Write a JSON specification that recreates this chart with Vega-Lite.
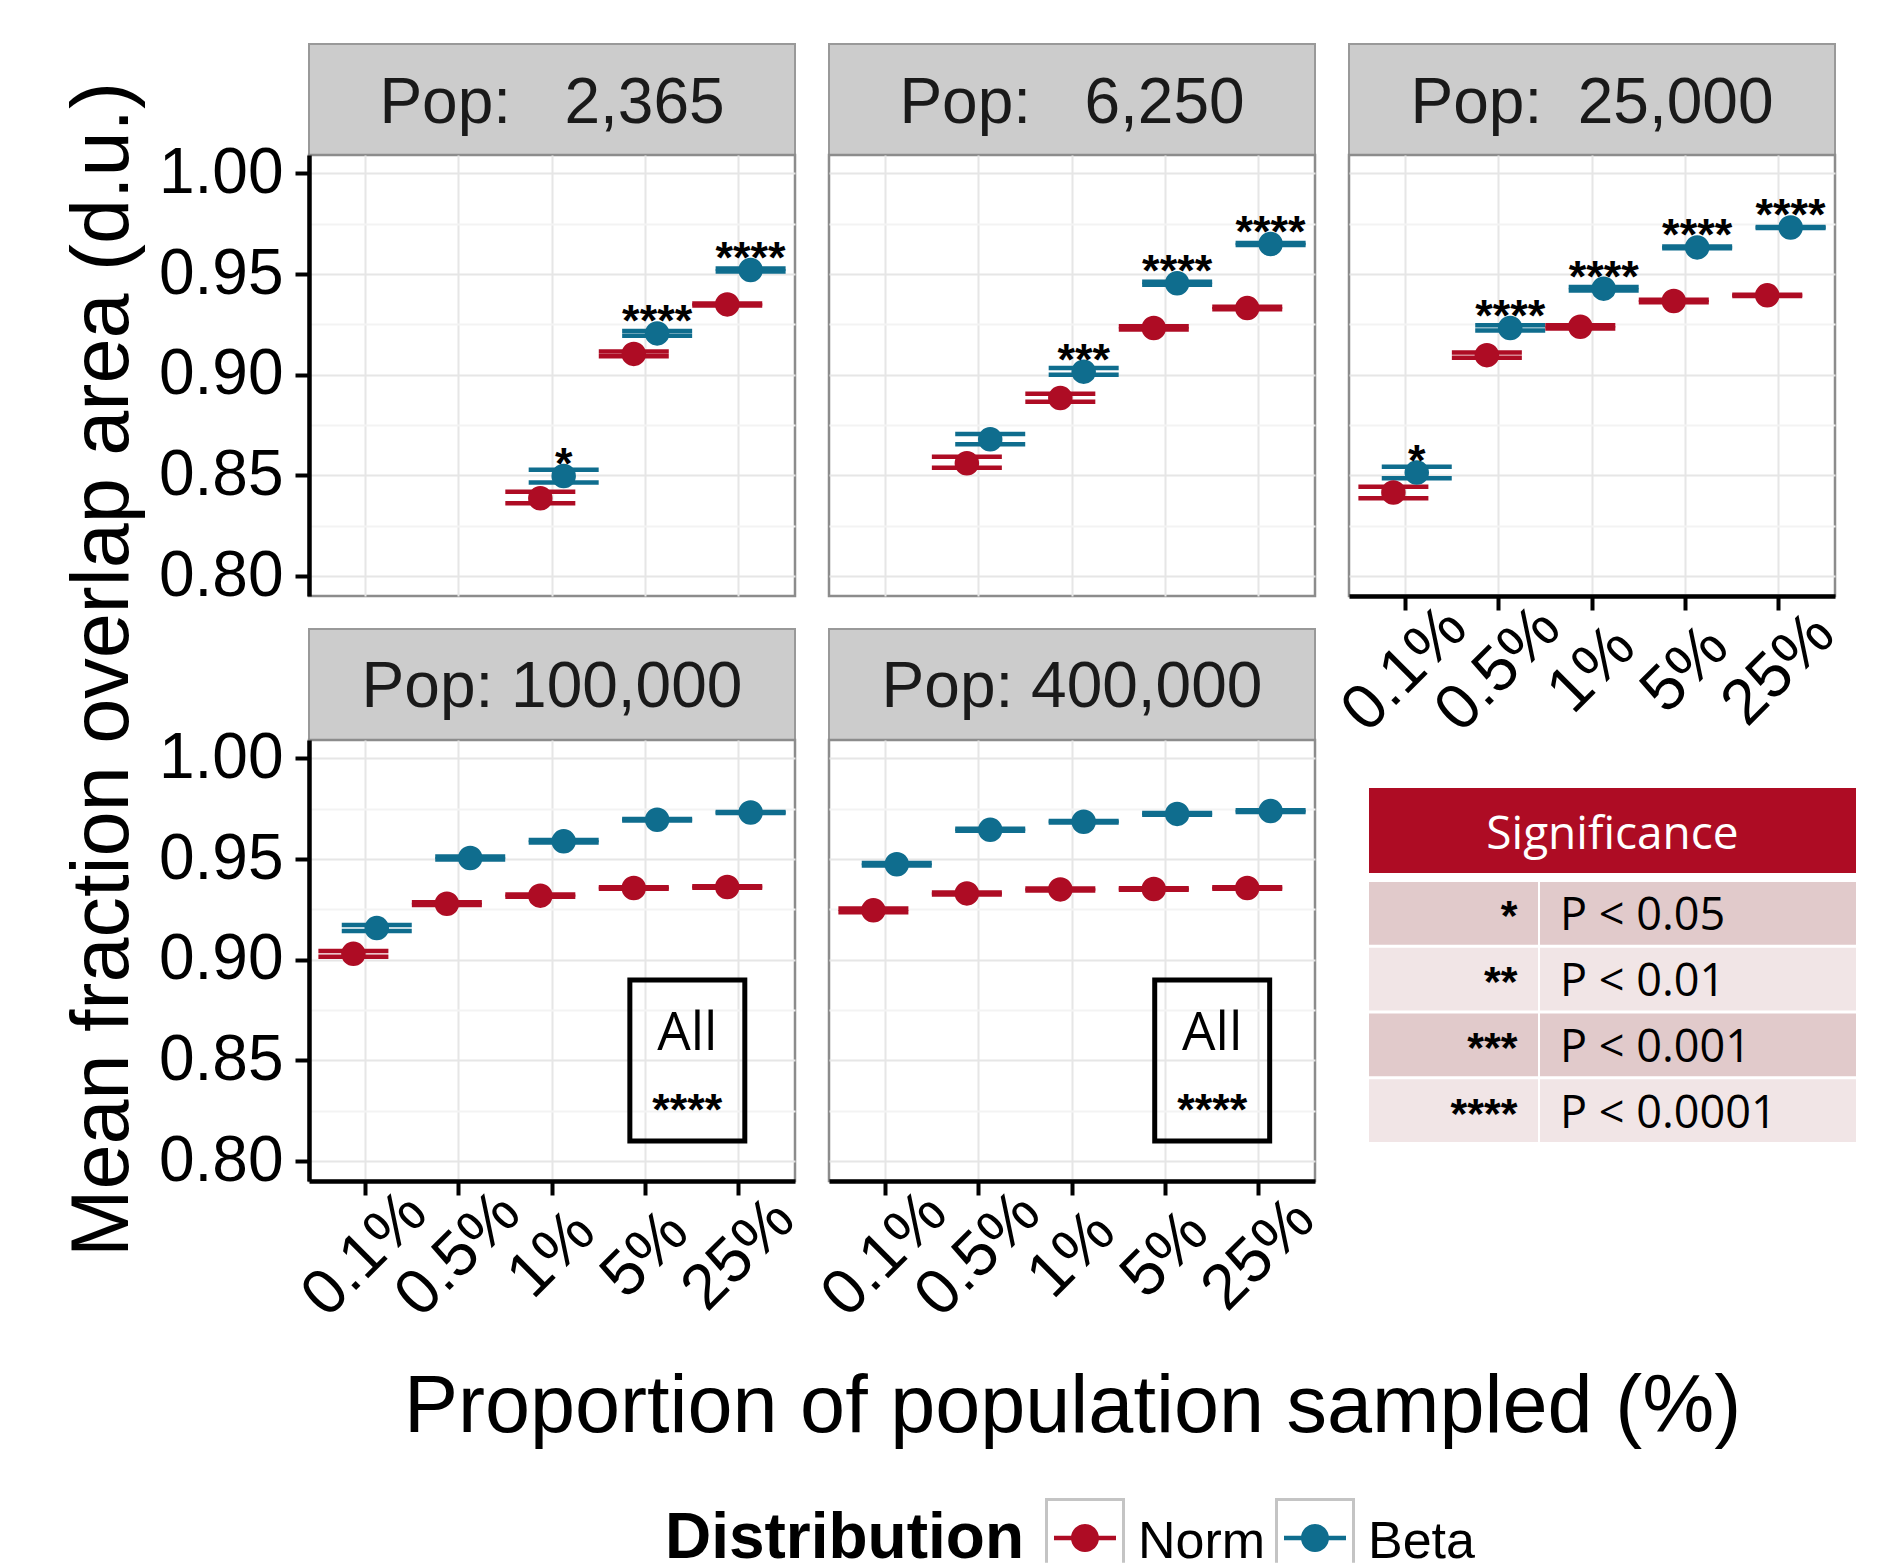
{
  "$schema": "https://vega.github.io/schema/vega-lite/v6.json",
  "background": "white",
  "padding": {"left": 60, "top": 43, "right": 5, "bottom": 0},
  "bounds": "flush",
  "columns": 3,
  "spacing": {"row": 0, "column": 34},
  "datasets": {
    "main": [
      {"Pop":"2,365","Prop":"1%","Distribution":"Norm","mean":0.8386,"lo":0.8361,"hi":0.8419,"sig":""},
      {"Pop":"2,365","Prop":"1%","Distribution":"Beta","mean":0.8497,"lo":0.8465,"hi":0.8528,"sig":"*"},
      {"Pop":"2,365","Prop":"5%","Distribution":"Norm","mean":0.9103,"lo":0.9091,"hi":0.9115,"sig":""},
      {"Pop":"2,365","Prop":"5%","Distribution":"Beta","mean":0.9205,"lo":0.9194,"hi":0.9217,"sig":"****"},
      {"Pop":"2,365","Prop":"25%","Distribution":"Norm","mean":0.9349,"lo":0.9344,"hi":0.9354,"sig":""},
      {"Pop":"2,365","Prop":"25%","Distribution":"Beta","mean":0.9520,"lo":0.9513,"hi":0.9527,"sig":"****"},
      {"Pop":"6,250","Prop":"0.5%","Distribution":"Norm","mean":0.8560,"lo":0.8538,"hi":0.8593,"sig":""},
      {"Pop":"6,250","Prop":"0.5%","Distribution":"Beta","mean":0.8679,"lo":0.8654,"hi":0.8705,"sig":""},
      {"Pop":"6,250","Prop":"1%","Distribution":"Norm","mean":0.8884,"lo":0.8866,"hi":0.8905,"sig":""},
      {"Pop":"6,250","Prop":"1%","Distribution":"Beta","mean":0.9015,"lo":0.9000,"hi":0.9033,"sig":"***"},
      {"Pop":"6,250","Prop":"5%","Distribution":"Norm","mean":0.9232,"lo":0.9224,"hi":0.9240,"sig":""},
      {"Pop":"6,250","Prop":"5%","Distribution":"Beta","mean":0.9454,"lo":0.9447,"hi":0.9461,"sig":"****"},
      {"Pop":"6,250","Prop":"25%","Distribution":"Norm","mean":0.9331,"lo":0.9325,"hi":0.9337,"sig":""},
      {"Pop":"6,250","Prop":"25%","Distribution":"Beta","mean":0.9649,"lo":0.9644,"hi":0.9654,"sig":"****"},
      {"Pop":"25,000","Prop":"0.1%","Distribution":"Norm","mean":0.8415,"lo":0.8387,"hi":0.8444,"sig":""},
      {"Pop":"25,000","Prop":"0.1%","Distribution":"Beta","mean":0.8514,"lo":0.8486,"hi":0.8543,"sig":"*"},
      {"Pop":"25,000","Prop":"0.5%","Distribution":"Norm","mean":0.9097,"lo":0.9084,"hi":0.9110,"sig":""},
      {"Pop":"25,000","Prop":"0.5%","Distribution":"Beta","mean":0.9232,"lo":0.9219,"hi":0.9245,"sig":"****"},
      {"Pop":"25,000","Prop":"1%","Distribution":"Norm","mean":0.9238,"lo":0.9230,"hi":0.9246,"sig":""},
      {"Pop":"25,000","Prop":"1%","Distribution":"Beta","mean":0.9427,"lo":0.9418,"hi":0.9436,"sig":"****"},
      {"Pop":"25,000","Prop":"5%","Distribution":"Norm","mean":0.9366,"lo":0.9360,"hi":0.9372,"sig":""},
      {"Pop":"25,000","Prop":"5%","Distribution":"Beta","mean":0.9632,"lo":0.9628,"hi":0.9636,"sig":"****"},
      {"Pop":"25,000","Prop":"25%","Distribution":"Norm","mean":0.9394,"lo":0.9391,"hi":0.9397,"sig":""},
      {"Pop":"25,000","Prop":"25%","Distribution":"Beta","mean":0.9731,"lo":0.9728,"hi":0.9734,"sig":"****"},
      {"Pop":"100,000","Prop":"0.1%","Distribution":"Norm","mean":0.9029,"lo":0.9015,"hi":0.9043,"sig":""},
      {"Pop":"100,000","Prop":"0.1%","Distribution":"Beta","mean":0.9157,"lo":0.9142,"hi":0.9172,"sig":""},
      {"Pop":"100,000","Prop":"0.5%","Distribution":"Norm","mean":0.9278,"lo":0.9271,"hi":0.9285,"sig":""},
      {"Pop":"100,000","Prop":"0.5%","Distribution":"Beta","mean":0.9505,"lo":0.9498,"hi":0.9512,"sig":""},
      {"Pop":"100,000","Prop":"1%","Distribution":"Norm","mean":0.9318,"lo":0.9312,"hi":0.9324,"sig":""},
      {"Pop":"100,000","Prop":"1%","Distribution":"Beta","mean":0.9588,"lo":0.9582,"hi":0.9594,"sig":""},
      {"Pop":"100,000","Prop":"5%","Distribution":"Norm","mean":0.9356,"lo":0.9352,"hi":0.9360,"sig":""},
      {"Pop":"100,000","Prop":"5%","Distribution":"Beta","mean":0.9695,"lo":0.9691,"hi":0.9699,"sig":""},
      {"Pop":"100,000","Prop":"25%","Distribution":"Norm","mean":0.9361,"lo":0.9357,"hi":0.9365,"sig":""},
      {"Pop":"100,000","Prop":"25%","Distribution":"Beta","mean":0.9731,"lo":0.9728,"hi":0.9734,"sig":""},
      {"Pop":"400,000","Prop":"0.1%","Distribution":"Norm","mean":0.9245,"lo":0.9236,"hi":0.9254,"sig":""},
      {"Pop":"400,000","Prop":"0.1%","Distribution":"Beta","mean":0.9474,"lo":0.9468,"hi":0.9480,"sig":""},
      {"Pop":"400,000","Prop":"0.5%","Distribution":"Norm","mean":0.9329,"lo":0.9324,"hi":0.9334,"sig":""},
      {"Pop":"400,000","Prop":"0.5%","Distribution":"Beta","mean":0.9645,"lo":0.9640,"hi":0.9650,"sig":""},
      {"Pop":"400,000","Prop":"1%","Distribution":"Norm","mean":0.9349,"lo":0.9344,"hi":0.9354,"sig":""},
      {"Pop":"400,000","Prop":"1%","Distribution":"Beta","mean":0.9685,"lo":0.9681,"hi":0.9689,"sig":""},
      {"Pop":"400,000","Prop":"5%","Distribution":"Norm","mean":0.9351,"lo":0.9347,"hi":0.9355,"sig":""},
      {"Pop":"400,000","Prop":"5%","Distribution":"Beta","mean":0.9724,"lo":0.9720,"hi":0.9728,"sig":""},
      {"Pop":"400,000","Prop":"25%","Distribution":"Norm","mean":0.9356,"lo":0.9352,"hi":0.9360,"sig":""},
      {"Pop":"400,000","Prop":"25%","Distribution":"Beta","mean":0.9738,"lo":0.9734,"hi":0.9742,"sig":""}
    ],
    "sigtab": [
      {"stars":"*","p":"P < 0.05"},
      {"stars":"**","p":"P < 0.01"},
      {"stars":"***","p":"P < 0.001"},
      {"stars":"****","p":"P < 0.0001"}
    ]
  },
  "concat": [
    {
      "width": 486, "height": 111, "view": {"stroke": null},
      "data": {"values": [{"s": "Pop:\u00a0\u00a0\u00a02,365"}]},
      "encoding": {"y": {"field": "s", "type": "nominal", "scale": {"paddingInner": 0, "paddingOuter": 0}, "axis": null}},
      "layer": [
        {"mark": {"type": "rect", "fill": "#cccccc", "stroke": "#999999", "strokeWidth": 2}},
        {"mark": {"type": "text", "fontSize": 64, "color": "#1a1a1a", "baseline": "alphabetic", "dy": 23}, "encoding": {"text": {"field": "s"}}}
      ]
    },
    {
      "width": 486, "height": 111, "view": {"stroke": null},
      "data": {"values": [{"s": "Pop:\u00a0\u00a0\u00a06,250"}]},
      "encoding": {"y": {"field": "s", "type": "nominal", "scale": {"paddingInner": 0, "paddingOuter": 0}, "axis": null}},
      "layer": [
        {"mark": {"type": "rect", "fill": "#cccccc", "stroke": "#999999", "strokeWidth": 2}},
        {"mark": {"type": "text", "fontSize": 64, "color": "#1a1a1a", "baseline": "alphabetic", "dy": 23}, "encoding": {"text": {"field": "s"}}}
      ]
    },
    {
      "width": 486, "height": 111, "view": {"stroke": null},
      "data": {"values": [{"s": "Pop:\u00a0\u00a025,000"}]},
      "encoding": {"y": {"field": "s", "type": "nominal", "scale": {"paddingInner": 0, "paddingOuter": 0}, "axis": null}},
      "layer": [
        {"mark": {"type": "rect", "fill": "#cccccc", "stroke": "#999999", "strokeWidth": 2}},
        {"mark": {"type": "text", "fontSize": 64, "color": "#1a1a1a", "baseline": "alphabetic", "dy": 23}, "encoding": {"text": {"field": "s"}}}
      ]
    },
    {
      "width": 486, "height": 441,
      "data": {"name": "main"},
      "transform": [{"filter": "datum.Pop == '2,365'"}],
      "encoding": {
        "x": {"field": "Prop", "type": "nominal", "scale": {"domain": ["0.1%","0.5%","1%","5%","25%"], "paddingInner": 0, "paddingOuter": 0.1},
              "axis": {"title": null, "labels": false, "ticks": false, "domain": false, "grid": true, "gridColor": "#e6e6e6", "gridWidth": 2, "bandPosition": 0.5}},
        "xOffset": {"field": "Distribution", "type": "nominal", "scale": {"domain": ["Norm","Beta"], "paddingInner": 0, "paddingOuter": 1}},
        "color": {"field": "Distribution", "type": "nominal", "scale": {"domain": ["Norm","Beta"], "range": ["#ae0c24","#0f6d8e"]}, "legend": null}
      },
      "layer": [
        {"mark": {"type": "tick", "thickness": 4.5, "size": 70, "opacity": 1},
         "encoding": {"y": {"field": "lo", "type": "quantitative", "scale": {"domain": [0.7901, 1.0091], "nice": false, "zero": false},
           "axis": {"title": null, "values": [0.8,0.825,0.85,0.875,0.9,0.925,0.95,0.975,1], "labelExpr": "abs(datum.value*20 - round(datum.value*20)) < 0.01 ? format(datum.value, '.2f') : ''", "labelFontSize": 64, "labelPadding": 12, "labelOverlap": false, "labelFlush": false, "labelColor": "#000", "ticks": true, "tickSize": 14, "tickWidth": 4, "tickColor": "#000", "tickOpacity": {"condition": {"test": "abs(datum.value*20 - round(datum.value*20)) < 0.01", "value": 1}, "value": 0}, "domain": true, "domainColor": "#000", "domainWidth": 4.5, "grid": true, "gridColor": {"condition": {"test": "abs(datum.value*20 - round(datum.value*20)) < 0.01", "value": "#e6e6e6"}, "value": "#f3f3f3"}, "gridWidth": 2}}}},
        {"mark": {"type": "tick", "thickness": 4.5, "size": 70, "opacity": 1}, "encoding": {"y": {"field": "hi", "type": "quantitative"}}},
        {"mark": {"type": "point", "filled": true, "size": 600, "opacity": 1}, "encoding": {"y": {"field": "mean", "type": "quantitative"}}},
        {"transform": [{"filter": "datum.sig != ''"}], "mark": {"type": "text", "fontSize": 45, "fontWeight": "bold", "dy": 3, "baseline": "alphabetic"}, "encoding": {"y": {"field": "mean", "type": "quantitative"}, "text": {"field": "sig"}, "color": {"value": "#000"}}}
      ]
    },
    {
      "width": 486, "height": 441,
      "data": {"name": "main"},
      "transform": [{"filter": "datum.Pop == '6,250'"}],
      "encoding": {
        "x": {"field": "Prop", "type": "nominal", "scale": {"domain": ["0.1%","0.5%","1%","5%","25%"], "paddingInner": 0, "paddingOuter": 0.1},
              "axis": {"title": null, "labels": false, "ticks": false, "domain": false, "grid": true, "gridColor": "#e6e6e6", "gridWidth": 2, "bandPosition": 0.5}},
        "xOffset": {"field": "Distribution", "type": "nominal", "scale": {"domain": ["Norm","Beta"], "paddingInner": 0, "paddingOuter": 1}},
        "color": {"field": "Distribution", "type": "nominal", "scale": {"domain": ["Norm","Beta"], "range": ["#ae0c24","#0f6d8e"]}, "legend": null}
      },
      "layer": [
        {"mark": {"type": "tick", "thickness": 4.5, "size": 70, "opacity": 1},
         "encoding": {"y": {"field": "lo", "type": "quantitative", "scale": {"domain": [0.7901, 1.0091], "nice": false, "zero": false},
           "axis": {"title": null, "values": [0.8,0.825,0.85,0.875,0.9,0.925,0.95,0.975,1], "labels": false, "ticks": false, "domain": false, "grid": true, "gridColor": {"condition": {"test": "abs(datum.value*20 - round(datum.value*20)) < 0.01", "value": "#e6e6e6"}, "value": "#f3f3f3"}, "gridWidth": 2}}}},
        {"mark": {"type": "tick", "thickness": 4.5, "size": 70, "opacity": 1}, "encoding": {"y": {"field": "hi", "type": "quantitative"}}},
        {"mark": {"type": "point", "filled": true, "size": 600, "opacity": 1}, "encoding": {"y": {"field": "mean", "type": "quantitative"}}},
        {"transform": [{"filter": "datum.sig != ''"}], "mark": {"type": "text", "fontSize": 45, "fontWeight": "bold", "dy": 3, "baseline": "alphabetic"}, "encoding": {"y": {"field": "mean", "type": "quantitative"}, "text": {"field": "sig"}, "color": {"value": "#000"}}}
      ]
    },
    {
      "width": 486, "height": 441,
      "data": {"name": "main"},
      "transform": [{"filter": "datum.Pop == '25,000'"}],
      "encoding": {
        "x": {"field": "Prop", "type": "nominal", "scale": {"domain": ["0.1%","0.5%","1%","5%","25%"], "paddingInner": 0, "paddingOuter": 0.1},
              "axis": {"title": null, "labelAngle": -45, "labelAlign": "center", "labelBaseline": "middle", "labelPadding": 59, "labelFontSize": 64, "labelOverlap": false, "labelColor": "#000", "ticks": true, "tickSize": 14, "tickWidth": 4, "tickColor": "#000", "domain": true, "domainColor": "#000", "domainWidth": 4.5, "grid": true, "gridColor": "#e6e6e6", "gridWidth": 2, "bandPosition": 0.5}},
        "xOffset": {"field": "Distribution", "type": "nominal", "scale": {"domain": ["Norm","Beta"], "paddingInner": 0, "paddingOuter": 1}},
        "color": {"field": "Distribution", "type": "nominal", "scale": {"domain": ["Norm","Beta"], "range": ["#ae0c24","#0f6d8e"]}, "legend": null}
      },
      "layer": [
        {"mark": {"type": "tick", "thickness": 4.5, "size": 70, "opacity": 1},
         "encoding": {"y": {"field": "lo", "type": "quantitative", "scale": {"domain": [0.7901, 1.0091], "nice": false, "zero": false},
           "axis": {"title": null, "values": [0.8,0.825,0.85,0.875,0.9,0.925,0.95,0.975,1], "labels": false, "ticks": false, "domain": false, "grid": true, "gridColor": {"condition": {"test": "abs(datum.value*20 - round(datum.value*20)) < 0.01", "value": "#e6e6e6"}, "value": "#f3f3f3"}, "gridWidth": 2}}}},
        {"mark": {"type": "tick", "thickness": 4.5, "size": 70, "opacity": 1}, "encoding": {"y": {"field": "hi", "type": "quantitative"}}},
        {"mark": {"type": "point", "filled": true, "size": 600, "opacity": 1}, "encoding": {"y": {"field": "mean", "type": "quantitative"}}},
        {"transform": [{"filter": "datum.sig != ''"}], "mark": {"type": "text", "fontSize": 45, "fontWeight": "bold", "dy": 3, "baseline": "alphabetic"}, "encoding": {"y": {"field": "mean", "type": "quantitative"}, "text": {"field": "sig"}, "color": {"value": "#000"}}}
      ]
    },
    {
      "width": 486, "height": 144, "view": {"stroke": null},
      "data": {"values": [{"s": "Pop: 100,000"}]},
      "encoding": {"y": {"field": "s", "type": "nominal", "scale": {"paddingInner": 0, "paddingOuter": 0.1486, "align": 1}, "axis": null}},
      "layer": [
        {"mark": {"type": "rect", "fill": "#cccccc", "stroke": "#999999", "strokeWidth": 2}},
        {"mark": {"type": "text", "fontSize": 64, "color": "#1a1a1a", "baseline": "alphabetic", "dy": 23}, "encoding": {"text": {"field": "s"}}}
      ]
    },
    {
      "width": 486, "height": 144, "view": {"stroke": null},
      "data": {"values": [{"s": "Pop: 400,000"}]},
      "encoding": {"y": {"field": "s", "type": "nominal", "scale": {"paddingInner": 0, "paddingOuter": 0.1486, "align": 1}, "axis": null}},
      "layer": [
        {"mark": {"type": "rect", "fill": "#cccccc", "stroke": "#999999", "strokeWidth": 2}},
        {"mark": {"type": "text", "fontSize": 64, "color": "#1a1a1a", "baseline": "alphabetic", "dy": 23}, "encoding": {"text": {"field": "s"}}}
      ]
    },
    {
      "width": 10, "height": 10, "view": {"stroke": null},
      "data": {"values": [{"a": 1}]},
      "mark": {"type": "point", "opacity": 0},
      "encoding": {}
    },
    {
      "width": 486, "height": 441,
      "resolve": {"scale": {"x": "independent"}},
      "layer": [
        {
          "data": {"name": "main"},
          "transform": [{"filter": "datum.Pop == '100,000'"}],
          "encoding": {
            "x": {"field": "Prop", "type": "nominal", "scale": {"domain": ["0.1%","0.5%","1%","5%","25%"], "paddingInner": 0, "paddingOuter": 0.1},
                  "axis": {"title": null, "labelAngle": -45, "labelAlign": "center", "labelBaseline": "middle", "labelPadding": 59, "labelFontSize": 64, "labelOverlap": false, "labelColor": "#000", "ticks": true, "tickSize": 14, "tickWidth": 4, "tickColor": "#000", "domain": true, "domainColor": "#000", "domainWidth": 4.5, "grid": true, "gridColor": "#e6e6e6", "gridWidth": 2, "bandPosition": 0.5}},
            "xOffset": {"field": "Distribution", "type": "nominal", "scale": {"domain": ["Norm","Beta"], "paddingInner": 0, "paddingOuter": 1}},
            "color": {"field": "Distribution", "type": "nominal", "scale": {"domain": ["Norm","Beta"], "range": ["#ae0c24","#0f6d8e"]}, "legend": null}
          },
          "layer": [
            {"mark": {"type": "tick", "thickness": 4.5, "size": 70, "opacity": 1},
             "encoding": {"y": {"field": "lo", "type": "quantitative", "scale": {"domain": [0.7901, 1.0091], "nice": false, "zero": false},
               "axis": {"title": "Mean fraction overlap area (d.u.)", "titleFontSize": 81, "titleFontWeight": "normal", "titleX": -182, "titleY": -71, "titleAngle": 270, "titleAlign": "center", "titleBaseline": "alphabetic", "values": [0.8,0.825,0.85,0.875,0.9,0.925,0.95,0.975,1], "labelExpr": "abs(datum.value*20 - round(datum.value*20)) < 0.01 ? format(datum.value, '.2f') : ''", "labelFontSize": 64, "labelPadding": 12, "labelOverlap": false, "labelFlush": false, "labelColor": "#000", "ticks": true, "tickSize": 14, "tickWidth": 4, "tickColor": "#000", "tickOpacity": {"condition": {"test": "abs(datum.value*20 - round(datum.value*20)) < 0.01", "value": 1}, "value": 0}, "domain": true, "domainColor": "#000", "domainWidth": 4.5, "grid": true, "gridColor": {"condition": {"test": "abs(datum.value*20 - round(datum.value*20)) < 0.01", "value": "#e6e6e6"}, "value": "#f3f3f3"}, "gridWidth": 2}}}},
            {"mark": {"type": "tick", "thickness": 4.5, "size": 70, "opacity": 1}, "encoding": {"y": {"field": "hi", "type": "quantitative"}}},
            {"mark": {"type": "point", "filled": true, "size": 600, "opacity": 1}, "encoding": {"y": {"field": "mean", "type": "quantitative"}}}
          ]
        },
        {
          "data": {"values": [{"label": "All", "sig": "****"}]},
          "encoding": {
            "x": {"datum": 4.448, "type": "quantitative", "scale": {"domain": [0.4, 5.6], "nice": false, "zero": false}, "axis": null},
            "y": {"datum": 0.85, "type": "quantitative"}
          },
          "layer": [
            {"mark": {"type": "point", "shape": "M-0.714,-1H0.714V1H-0.714Z", "size": 25921, "filled": false, "stroke": "#000", "strokeWidth": 5, "opacity": 1}},
            {"mark": {"type": "text", "font": "Open Sans", "fontSize": 53, "dy": -10, "baseline": "alphabetic", "color": "#000"}, "encoding": {"text": {"field": "label"}}},
            {"mark": {"type": "text", "fontSize": 45, "fontWeight": "bold", "dy": 65, "baseline": "alphabetic", "color": "#000"}, "encoding": {"text": {"field": "sig"}}}
          ]
        }
      ]
    },
    {
      "width": 486, "height": 441,
      "resolve": {"scale": {"x": "independent"}},
      "layer": [
        {
          "data": {"name": "main"},
          "transform": [{"filter": "datum.Pop == '400,000'"}],
          "encoding": {
            "x": {"field": "Prop", "type": "nominal", "scale": {"domain": ["0.1%","0.5%","1%","5%","25%"], "paddingInner": 0, "paddingOuter": 0.1},
                  "axis": {"title": "Proportion of population sampled (%)", "titleFontSize": 81, "titleFontWeight": "normal", "titleY": 250, "titleBaseline": "alphabetic", "labelAngle": -45, "labelAlign": "center", "labelBaseline": "middle", "labelPadding": 59, "labelFontSize": 64, "labelOverlap": false, "labelColor": "#000", "ticks": true, "tickSize": 14, "tickWidth": 4, "tickColor": "#000", "domain": true, "domainColor": "#000", "domainWidth": 4.5, "grid": true, "gridColor": "#e6e6e6", "gridWidth": 2, "bandPosition": 0.5}},
            "xOffset": {"field": "Distribution", "type": "nominal", "scale": {"domain": ["Norm","Beta"], "paddingInner": 0, "paddingOuter": 1}},
            "color": {"field": "Distribution", "type": "nominal", "scale": {"domain": ["Norm","Beta"], "range": ["#ae0c24","#0f6d8e"]}, "legend": null}
          },
          "layer": [
            {"mark": {"type": "tick", "thickness": 4.5, "size": 70, "opacity": 1},
             "encoding": {"y": {"field": "lo", "type": "quantitative", "scale": {"domain": [0.7901, 1.0091], "nice": false, "zero": false},
               "axis": {"title": null, "values": [0.8,0.825,0.85,0.875,0.9,0.925,0.95,0.975,1], "labels": false, "ticks": false, "domain": false, "grid": true, "gridColor": {"condition": {"test": "abs(datum.value*20 - round(datum.value*20)) < 0.01", "value": "#e6e6e6"}, "value": "#f3f3f3"}, "gridWidth": 2}}}},
            {"mark": {"type": "tick", "thickness": 4.5, "size": 70, "opacity": 1}, "encoding": {"y": {"field": "hi", "type": "quantitative"}}},
            {"mark": {"type": "point", "filled": true, "size": 600, "opacity": 1}, "encoding": {"y": {"field": "mean", "type": "quantitative"}}}
          ]
        },
        {
          "data": {"values": [{"label": "All", "sig": "****"}]},
          "encoding": {
            "x": {"datum": 4.5, "type": "quantitative", "scale": {"domain": [0.4, 5.6], "nice": false, "zero": false}, "axis": null},
            "y": {"datum": 0.85, "type": "quantitative"}
          },
          "layer": [
            {"mark": {"type": "point", "shape": "M-0.714,-1H0.714V1H-0.714Z", "size": 25921, "filled": false, "stroke": "#000", "strokeWidth": 5, "opacity": 1}},
            {"mark": {"type": "text", "font": "Open Sans", "fontSize": 53, "dy": -10, "baseline": "alphabetic", "color": "#000"}, "encoding": {"text": {"field": "label"}}},
            {"mark": {"type": "text", "fontSize": 45, "fontWeight": "bold", "dy": 65, "baseline": "alphabetic", "color": "#000"}, "encoding": {"text": {"field": "sig"}}}
          ]
        }
      ]
    },
    {
      "width": 507, "height": 441, "view": {"stroke": null},
      "resolve": {"scale": {"x": "independent", "y": "independent", "color": "independent"}},
      "layer": [
        {
          "data": {"values": [{"h": "Significance"}]},
          "encoding": {
            "x": {"field": "h", "type": "nominal", "scale": {"paddingInner": 0, "paddingOuter": 0.02053, "align": 1}, "axis": null},
            "y": {"field": "h", "type": "nominal", "scale": {"range": [48, 133], "paddingInner": 0, "paddingOuter": 0}, "axis": null}
          },
          "layer": [
            {"mark": {"type": "rect", "fill": "#ae0c24"}},
            {"mark": {"type": "text", "font": "Open Sans", "fontSize": 46, "color": "#ffffff", "baseline": "alphabetic", "dy": 18}, "encoding": {"text": {"field": "h"}}}
          ]
        },
        {
          "data": {"name": "sigtab"},
          "encoding": {
            "x": {"datum": "c1", "type": "nominal", "scale": {"domain": ["c1"], "paddingInner": 0, "paddingOuter": 1, "align": 0.0592}, "axis": null},
            "y": {"field": "stars", "type": "nominal", "sort": null, "scale": {"domain": ["*","**","***","****"], "range": [142, 402], "paddingInner": 0.04563, "paddingOuter": 0}, "axis": null}
          },
          "layer": [
            {"mark": {"type": "rect"}, "encoding": {"color": {"field": "stars", "type": "nominal", "scale": {"domain": ["*","**","***","****"], "range": ["#e1cacb","#f1e5e6","#e1cacb","#f1e5e6"]}, "legend": null}}},
            {"mark": {"type": "text", "fontSize": 43, "fontWeight": "bold", "align": "right", "dx": 64, "dy": 17, "baseline": "alphabetic", "color": "#000"}, "encoding": {"text": {"field": "stars"}}}
          ]
        },
        {
          "data": {"name": "sigtab"},
          "encoding": {
            "x": {"datum": "c2", "type": "nominal", "scale": {"domain": ["c2"], "paddingInner": 0, "paddingOuter": 0.3022, "align": 1}, "axis": null},
            "y": {"field": "stars", "type": "nominal", "sort": null, "scale": {"domain": ["*","**","***","****"], "range": [142, 402], "paddingInner": 0.04563, "paddingOuter": 0}, "axis": null}
          },
          "layer": [
            {"mark": {"type": "rect"}, "encoding": {"color": {"field": "stars", "type": "nominal", "scale": {"domain": ["*","**","***","****"], "range": ["#e1cacb","#f1e5e6","#e1cacb","#f1e5e6"]}, "legend": null}}},
            {"mark": {"type": "text", "font": "Open Sans", "fontSize": 45, "align": "left", "dx": -138, "dy": 17, "baseline": "alphabetic", "color": "#000"}, "encoding": {"text": {"field": "p"}}}
          ]
        }
      ]
    },
    {
      "width": 10, "height": 10, "view": {"stroke": null},
      "data": {"values": [{"a": 1}]},
      "mark": {"type": "point", "opacity": 0},
      "encoding": {}
    },
    {
      "width": 486, "height": 376, "view": {"stroke": null},
      "data": {"values": [{"Distribution": "Norm"}, {"Distribution": "Beta"}]},
      "encoding": {
        "x": {"field": "Distribution", "type": "nominal", "scale": {"type": "point", "domain": ["Norm","Beta"], "padding": 0.5565, "align": 1}, "axis": null},
        "y": {"datum": "k", "type": "nominal", "scale": {"type": "point", "align": 0.9495}, "axis": null}
      },
      "layer": [
        {"mark": {"type": "point", "shape": "M-1,0.64V-1H1V0.64", "size": 5929, "filled": false, "stroke": "#c4c4c4", "strokeWidth": 3, "opacity": 1}},
        {"mark": {"type": "point", "shape": "M-1,-0.0726H1V0.0726H-1Z M0.4516,0A0.4516,0.4516,0,1,1,-0.4516,0A0.4516,0.4516,0,1,1,0.4516,0Z", "size": 3844, "filled": true, "opacity": 1},
         "encoding": {"color": {"field": "Distribution", "type": "nominal", "scale": {"domain": ["Norm","Beta"], "range": ["#ae0c24","#0f6d8e"]}, "legend": null}}},
        {"mark": {"type": "text", "fontSize": 52, "align": "left", "dx": 53, "dy": 20, "baseline": "alphabetic", "color": "#000"}, "encoding": {"text": {"field": "Distribution"}}},
        {"transform": [{"filter": "datum.Distribution == 'Norm'"}], "mark": {"type": "text", "fontSize": 64, "fontWeight": "bold", "align": "right", "dx": -61, "dy": 20, "baseline": "alphabetic", "color": "#000"}, "encoding": {"text": {"value": "Distribution"}}}
      ]
    }
  ],
  "config": {
    "font": "Liberation Sans",
    "view": {"stroke": "#8c8c8c", "strokeWidth": 2.5},
    "axis": {"labelFont": "Liberation Sans", "titleFont": "Liberation Sans", "labelColor": "#000", "titleColor": "#000"}
  }
}
